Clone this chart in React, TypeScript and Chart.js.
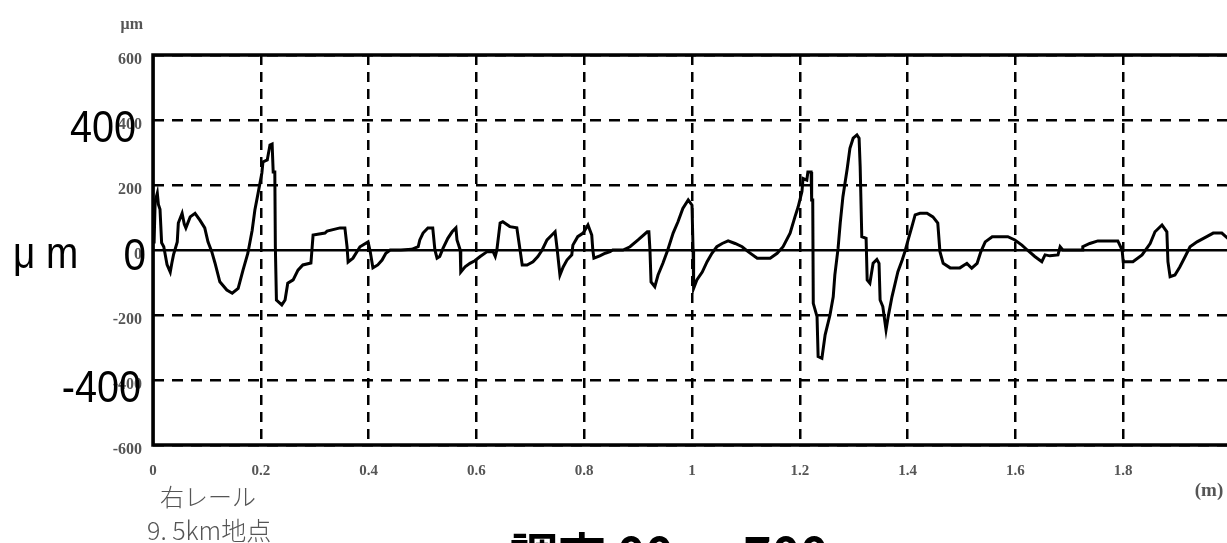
import { useEffect, useRef } from "react";
import { Chart, registerables } from "chart.js";

Chart.register(...registerables);

// Rail surface profile, right rail at the 9.5 km point.
// Each pair is [distance along rail (m), vertical deviation (μm)].
const profile0to05: [number, number][] = [
  [0.002, 20], [0.004, 150], [0.008, 175], [0.010, 140], [0.013, 125], [0.016, 22],
  [0.020, 10], [0.026, -45], [0.032, -68], [0.035, -40], [0.038, -15], [0.045, 25],
  [0.047, 83], [0.054, 113], [0.058, 80], [0.061, 68], [0.069, 102], [0.078, 113],
  [0.087, 92], [0.096, 68], [0.102, 25], [0.109, -5], [0.115, -40], [0.124, -98],
  [0.137, -123], [0.147, -133], [0.158, -118], [0.167, -62], [0.176, -10], [0.184, 61],
  [0.189, 123], [0.195, 175], [0.202, 237], [0.204, 271], [0.212, 277], [0.217, 323],
  [0.221, 326], [0.223, 240], [0.226, 240], [0.227, 10], [0.229, -154], [0.239, -169],
  [0.245, -154], [0.250, -102], [0.260, -92], [0.269, -62], [0.278, -46], [0.293, -40],
  [0.297, 46], [0.319, 52], [0.323, 58], [0.347, 68], [0.356, 68], [0.360, 10],
  [0.362, -37], [0.371, -25], [0.384, 10], [0.399, 25], [0.403, -5], [0.408, -55],
  [0.417, -46], [0.425, -31], [0.432, -10], [0.440, 0], [0.460, 0], [0.480, 2],
  [0.492, 10],
];

const profile05to10: [number, number][] = [
  [0.495, 31], [0.501, 52], [0.510, 68], [0.519, 68], [0.523, 0], [0.527, -25],
  [0.532, -20], [0.538, 5], [0.547, 36], [0.555, 56], [0.562, 68], [0.564, 31],
  [0.570, 0], [0.571, -68], [0.579, -52], [0.588, -41], [0.597, -33], [0.607, -20],
  [0.620, -5], [0.631, -5], [0.635, -20], [0.638, 0], [0.644, 83], [0.649, 87],
  [0.662, 72], [0.675, 68], [0.681, 0], [0.685, -46], [0.694, -46], [0.705, -36],
  [0.714, -20], [0.722, 0], [0.731, 31], [0.740, 46], [0.746, 56], [0.750, 0],
  [0.755, -77], [0.761, -52], [0.768, -31], [0.777, -15], [0.779, 15], [0.788, 41],
  [0.798, 52], [0.807, 77], [0.814, 46], [0.816, 0], [0.818, -25], [0.829, -18],
  [0.839, -10], [0.848, -5], [0.853, 0], [0.872, 0], [0.885, 10], [0.900, 31],
  [0.917, 56], [0.920, 56], [0.922, 0], [0.924, -98], [0.931, -113], [0.937, -77],
  [0.946, -41], [0.955, 0], [0.965, 52], [0.974, 87], [0.983, 128], [0.993, 154],
];

const profile10to15: [number, number][] = [
  [1.000, 138], [1.002, 0], [1.003, -118], [1.009, -92], [1.019, -68], [1.028, -36],
  [1.037, -10], [1.046, 10], [1.056, 20], [1.067, 28], [1.080, 20], [1.093, 10],
  [1.104, -5], [1.121, -25], [1.145, -25], [1.158, -10], [1.169, 10], [1.182, 52],
  [1.191, 102], [1.197, 133], [1.204, 180], [1.206, 220], [1.213, 215], [1.215, 240],
  [1.221, 240], [1.222, 154], [1.224, 154], [1.225, -164], [1.232, -205], [1.234, -328],
  [1.241, -333], [1.247, -261], [1.256, -200], [1.262, -144], [1.265, -77], [1.271, 5],
  [1.275, 83], [1.280, 164], [1.288, 251], [1.293, 313], [1.299, 344], [1.306, 354],
  [1.310, 344], [1.312, 256], [1.315, 41], [1.323, 36], [1.325, -92], [1.330, -102],
  [1.336, -41], [1.343, -29], [1.347, -41], [1.349, -154], [1.354, -174], [1.360, -246],
  [1.364, -205], [1.371, -144], [1.377, -102], [1.382, -67], [1.390, -31], [1.395, -5],
  [1.401, 31], [1.408, 72], [1.414, 108], [1.423, 113], [1.436, 113], [1.447, 102],
  [1.456, 83], [1.460, -5], [1.466, -41], [1.479, -55], [1.497, -55],
];

const profile15to20: [number, number][] = [
  [1.510, -41], [1.519, -56], [1.529, -41], [1.536, -5], [1.544, 25], [1.557, 41],
  [1.586, 41], [1.599, 31], [1.612, 15], [1.622, 0], [1.636, -20], [1.649, -36],
  [1.655, -15], [1.664, -18], [1.679, -15], [1.683, 10], [1.688, 0], [1.724, 0],
  [1.725, 10], [1.738, 20], [1.753, 28], [1.790, 28], [1.798, 0], [1.800, -36],
  [1.818, -36], [1.835, -15], [1.850, 20], [1.859, 56], [1.872, 77], [1.881, 56],
  [1.883, -36], [1.887, -82], [1.896, -77], [1.905, -52], [1.915, -20], [1.924, 10],
  [1.937, 25], [1.955, 41], [1.967, 52], [1.983, 52], [1.994, 36], [2.000, 30],
];

const xTickValues = [0, 0.2, 0.4, 0.6, 0.8, 1, 1.2, 1.4, 1.6, 1.8, 2];
const yTickValues = [-600, -400, -200, 0, 200, 400, 600];

type Note = {
  text: string;
  x: number;
  y: number;
  font: string;
  color: string;
  align: CanvasTextAlign;
  sx?: number;
};

const notes: Note[] = [
  { text: "μm", x: 143, y: 29, font: "bold 16px 'Liberation Serif'", color: "#555", align: "right" },
  { text: "400", x: 136, y: 142, font: "44px 'Liberation Sans'", color: "#000", align: "right", sx: 0.9 },
  { text: "0", x: 146, y: 270, font: "45px 'Liberation Sans'", color: "#000", align: "right", sx: 0.9 },
  { text: "-400", x: 141, y: 402, font: "44px 'Liberation Sans'", color: "#000", align: "right", sx: 0.9 },
  { text: "μ m", x: 13, y: 268, font: "44px 'Liberation Sans'", color: "#000", align: "left", sx: 0.88 },
  { text: "右レール", x: 160, y: 506, font: "300 24px 'Noto Sans CJK JP'", color: "#555", align: "left" },
  { text: "9. 5km地点", x: 147, y: 540, font: "300 25px 'Noto Sans CJK JP'", color: "#555", align: "left" },
  { text: "(m)", x: 1209, y: 496, font: "bold 19px 'Liberation Serif'", color: "#555", align: "center" },
  { text: "調査 00 － 700", x: 510, y: 573, font: "bold 48px 'Noto Sans CJK JP'", color: "#000", align: "left" },
];

// Solid frame around the plotting area
const framePlugin = {
  id: "frame",
  beforeDatasetsDraw(chart: Chart) {
    const { ctx, chartArea: a } = chart;
    ctx.save();
    ctx.strokeStyle = "#000";
    ctx.lineWidth = 3.5;
    ctx.strokeRect(a.left, a.top, a.right - a.left, a.bottom - a.top);
    ctx.restore();
  },
};

// Axis captions and large value labels
const notesPlugin = {
  id: "notes",
  afterDraw(chart: Chart) {
    const ctx = chart.ctx;
    for (const n of notes) {
      ctx.save();
      ctx.font = n.font;
      ctx.fillStyle = n.color;
      ctx.textAlign = n.align;
      ctx.textBaseline = "alphabetic";
      ctx.translate(n.x, n.y);
      ctx.scale(n.sx ?? 1, 1);
      ctx.fillText(n.text, 0, 0);
      ctx.restore();
    }
  },
};

const tickFont = { family: "'Liberation Serif', serif", size: 15, weight: "bold" as const };

export default function App() {
  const canvasRef = useRef<HTMLCanvasElement>(null);

  useEffect(() => {
    const canvas = canvasRef.current;
    if (!canvas) return;
    const points = [...profile0to05, ...profile05to10, ...profile10to15, ...profile15to20].map(
      ([x, y]) => ({ x, y })
    );

    const chart = new Chart(canvas, {
      type: "line",
      data: {
        datasets: [
          {
            data: points,
            borderColor: "#000",
            borderWidth: 3,
            pointRadius: 0,
            tension: 0,
            fill: false,
          },
        ],
      },
      options: {
        animation: false,
        responsive: false,
        devicePixelRatio: 1,
        layout: { padding: { left: 0, right: 14, top: 55, bottom: 0 } },
        plugins: { legend: { display: false }, tooltip: { enabled: false } },
        scales: {
          x: {
            type: "linear",
            min: 0,
            max: 2,
            afterBuildTicks: (s: any) => {
              s.ticks = xTickValues.map((v) => ({ value: v }));
            },
            afterFit: (s: any) => {
              s.height = 98;
              s.paddingLeft = 0;
              s.paddingRight = 0;
            },
            grid: { color: "#000", lineWidth: 2.5, drawTicks: false },
            border: {
              display: false,
              dash: (c: any) => (c.tick && c.tick.value !== 0 ? [10, 7] : []),
            },
            ticks: {
              autoSkip: false,
              maxRotation: 0,
              padding: 17,
              color: "#555",
              font: tickFont,
              callback: (v: any) => String(Number(Number(v).toFixed(1))),
            },
          },
          y: {
            min: -600,
            max: 600,
            afterBuildTicks: (s: any) => {
              s.ticks = yTickValues.map((v) => ({ value: v }));
            },
            afterFit: (s: any) => {
              s.width = 153;
              s.paddingTop = 0;
              s.paddingBottom = 0;
            },
            grid: { color: "#000", lineWidth: 2.5, drawTicks: false },
            border: {
              display: false,
              dash: (c: any) => (c.tick && c.tick.value !== 0 ? [11, 8] : []),
            },
            ticks: {
              padding: 11,
              labelOffset: 5,
              color: "#555",
              font: { ...tickFont, size: 16 },
              callback: (v: any) => String(v),
            },
          },
        },
      },
      plugins: [framePlugin, notesPlugin],
    });

    return () => chart.destroy();
  }, []);

  return (
    <div
      style={{
        position: "fixed",
        left: 0,
        top: 0,
        width: 1227,
        height: 543,
        overflow: "hidden",
        background: "#fff",
      }}
    >
      <canvas
        ref={canvasRef}
        width={1245}
        height={543}
        style={{ display: "block", width: 1245, height: 543 }}
      />
    </div>
  );
}
